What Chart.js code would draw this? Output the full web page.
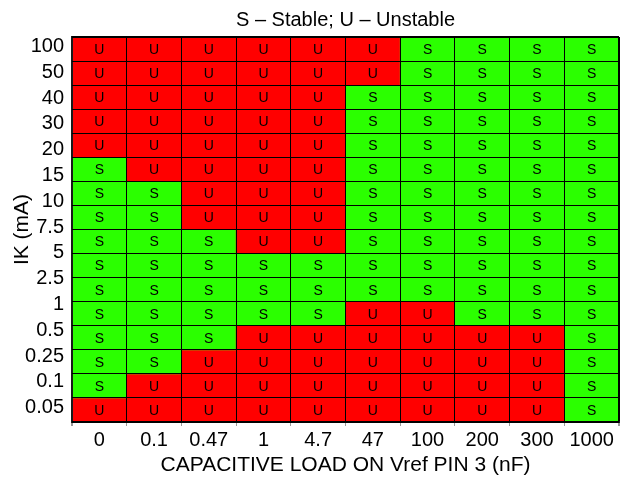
<!DOCTYPE html>
<html>
<head>
<meta charset="utf-8">
<script src="https://cdn.jsdelivr.net/npm/chart.js@4/dist/chart.umd.min.js"></script>
<style>
  html, body { margin:0; padding:0; background:#fff; overflow:hidden; }
  #chart { display:block; }
</style>
</head>
<body>
<canvas id="chart" width="629" height="481"></canvas>
<script>
// ============ Data ============
const capLabels = ["0", "0.1", "0.47", "1", "4.7", "47", "100", "200", "300", "1000"];   // nF
const ikLabels  = ["100", "50", "40", "30", "20", "15", "10", "7.5", "5", "2.5", "1", "0.5", "0.25", "0.1", "0.05"]; // mA
// one string per grid row (top -> bottom), one letter per column
const stability = [
  "UUUUUUSSSS",
  "UUUUUUSSSS",
  "UUUUUSSSSS",
  "UUUUUSSSSS",
  "UUUUUSSSSS",
  "SUUUUSSSSS",
  "SSUUUSSSSS",
  "SSUUUSSSSS",
  "SSSUUSSSSS",
  "SSSSSSSSSS",
  "SSSSSSSSSS",
  "SSSSSUUSSS",
  "SSSUUUUUUS",
  "SSUUUUUUUS",
  "SUUUUUUUUS",
  "UUUUUUUUUS"
];
const TITLE   = "S – Stable; U – Unstable";
const X_TITLE = "CAPACITIVE LOAD ON Vref PIN 3 (nF)";
const Y_TITLE = "IK (mA)";

// ============ Style ============
const RED = "#ff0000", GREEN = "#2bff00";
const FONT = "Arial, 'Liberation Sans', sans-serif";
const LINE = "#000", EDGE = "#1a1a1a";
const nRows = stability.length;

Chart.defaults.font.family = FONT;
Chart.defaults.color = "#000";

// floating bars: one dataset per row, each cell spans row-0.5 .. row+0.5
const datasets = stability.map((row, r) => ({
  label: "row " + r,
  data: capLabels.map(() => [r - 0.5, r + 0.5]),
  backgroundColor: row.split("").map(s => s === "S" ? GREEN : RED),
  borderWidth: 0,
  grouped: false,
  barPercentage: 1,
  categoryPercentage: 1
}));

// S / U letters in the middle of each cell
const cellText = {
  id: "cellText",
  afterDatasetsDraw(chart){
    const ctx = chart.ctx;
    ctx.save();
    ctx.font = "14px " + FONT;
    ctx.fillStyle = "#000";
    ctx.textAlign = "center";
    ctx.textBaseline = "middle";
    chart.data.datasets.forEach((ds, r) => {
      chart.getDatasetMeta(r).data.forEach((bar, c) => {
        ctx.fillText(stability[r][c], bar.x, (bar.y + bar.base) / 2 + 1);
      });
    });
    ctx.restore();
  }
};

new Chart(document.getElementById("chart"), {
  type: "bar",
  data: { labels: capLabels, datasets },
  plugins: [cellText],
  options: {
    responsive: false,
    animation: false,
    layout: { padding: 0 },
    plugins: {
      legend: { display: false },
      tooltip: { enabled: false },
      title: {
        display: true, text: TITLE, fullSize: false, color: "#000",
        font: { family: FONT, size: 20, weight: "normal" },
        padding: { top: 8, bottom: 5 }
      }
    },
    scales: {
      x: {
        type: "category",
        grid: {
          color: LINE, z: 1, offset: true,
          lineWidth: c => (c.index === undefined || c.index === 0) ? 2 : 1,
          drawTicks: true, tickLength: 4, tickColor: "#999"
        },
        border: { display: true, color: EDGE, width: 2, z: 1 },
        ticks: { font: { size: 20 }, padding: 2, maxRotation: 0, autoSkip: false },
        title: { display: true, text: X_TITLE, font: { size: 21 }, padding: { top: 0, bottom: 3 } },
        afterFit: s => { s.height = 59; }
      },
      y: {
        type: "linear", min: -0.5, max: 15.5, reverse: true, bounds: "data",
        grid: { display: false, drawTicks: false },
        border: { display: true, color: EDGE, width: 2, z: 1 },
        ticks: { autoSkip: false, padding: 8, font: { size: 20 }, callback: (v, i) => ikLabels[i] },
        // labels are spread evenly over the 16 rows, as in the source figure
        afterBuildTicks: s => {
          s.ticks = ikLabels.map((_, i) => ({ value: i * (nRows - 1) / (ikLabels.length - 1) - 0.1 }));
        },
        title: { display: true, text: Y_TITLE, font: { size: 21 }, padding: { top: 10, bottom: 0 } },
        afterFit: s => { s.width = 72; }
      },
      yg: {
        type: "linear", position: "right", min: -0.5, max: 15.5, reverse: true, bounds: "data",
        grid: {
          color: LINE, z: 1, drawTicks: false,
          lineWidth: c => (c.index === 0 || c.index === nRows) ? 2 : 1
        },
        border: { display: false },
        ticks: { display: false },
        afterBuildTicks: s => {
          s.ticks = Array.from({ length: nRows + 1 }, (_, i) => ({ value: i - 0.5 }));
        },
        afterFit: s => { s.width = 10; }
      }
    }
  }
});
</script>
</body>
</html>
